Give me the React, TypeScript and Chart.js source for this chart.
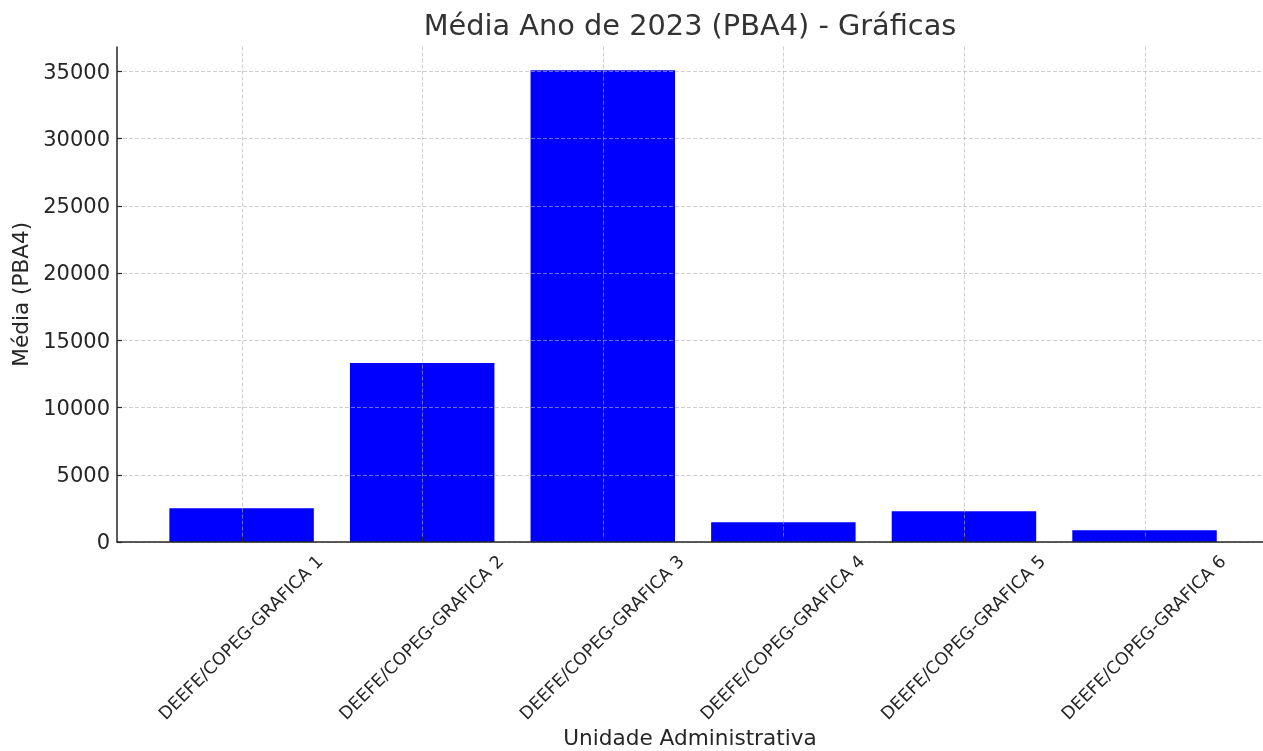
import React, { useEffect, useRef } from 'react';
import { Chart, registerables } from 'chart.js';

Chart.register(...registerables);

const categories = [
  'DEEFE/COPEG-GRAFICA 1',
  'DEEFE/COPEG-GRAFICA 2',
  'DEEFE/COPEG-GRAFICA 3',
  'DEEFE/COPEG-GRAFICA 4',
  'DEEFE/COPEG-GRAFICA 5',
  'DEEFE/COPEG-GRAFICA 6',
];
const values = [2510, 13310, 35075, 1460, 2280, 866];
const yTicks = [0, 5000, 10000, 15000, 20000, 25000, 30000, 35000];
const chartTitle = 'Média Ano de 2023 (PBA4) - Gráficas';
const xTitle = 'Unidade Administrativa';
const yTitle = 'Média (PBA4)';

const FONT = "'DejaVu Sans', sans-serif";
const TEXT = '#262626';

const overlay = {
  id: 'overlay',
  afterDatasetsDraw(chart: any) {
    const { ctx, chartArea: a, scales } = chart;
    const x = scales.x;
    const y = scales.y;
    ctx.save();
    // dashed grid on top of bars
    ctx.strokeStyle = 'rgba(176,176,176,0.6)';
    ctx.lineWidth = 1;
    ctx.setLineDash([4, 2]);
    categories.forEach((_, i) => {
      const px = Math.round(x.getPixelForValue(i)) + 0.5;
      ctx.beginPath();
      ctx.moveTo(px, a.top);
      ctx.lineTo(px, a.bottom);
      ctx.stroke();
    });
    yTicks.forEach((v) => {
      const py = Math.round(y.getPixelForValue(v)) + 0.5;
      ctx.beginPath();
      ctx.moveTo(a.left, py);
      ctx.lineTo(a.right, py);
      ctx.stroke();
    });
    ctx.setLineDash([]);
    // inward tick marks
    ctx.strokeStyle = TEXT;
    ctx.lineWidth = 1.2;
    categories.forEach((_, i) => {
      const px = Math.round(x.getPixelForValue(i)) + 0.5;
      ctx.beginPath();
      ctx.moveTo(px, a.bottom);
      ctx.lineTo(px, a.bottom - 5);
      ctx.stroke();
    });
    yTicks.forEach((v) => {
      const py = Math.round(y.getPixelForValue(v)) + 0.5;
      ctx.beginPath();
      ctx.moveTo(a.left, py);
      ctx.lineTo(a.left + 5, py);
      ctx.stroke();
    });
    // spines
    ctx.lineWidth = 1.5;
    ctx.beginPath();
    ctx.moveTo(a.left, a.top);
    ctx.lineTo(a.left, a.bottom);
    ctx.lineTo(a.right, a.bottom);
    ctx.stroke();
    // rotated category labels, centred under ticks
    const fs = 17.5;
    ctx.font = `${fs}px ${FONT}`;
    ctx.fillStyle = TEXT;
    ctx.textAlign = 'center';
    ctx.textBaseline = 'middle';
    categories.forEach((c, i) => {
      const w = ctx.measureText(c).width;
      const h = fs * 1.164;
      const bh = (w + h) * Math.SQRT1_2;
      const cx = x.getPixelForValue(i);
      const cy = a.bottom + 10 + bh / 2;
      ctx.save();
      ctx.translate(cx, cy);
      ctx.rotate(-Math.PI / 4);
      ctx.fillText(c, 0, 0);
      ctx.restore();
    });
    ctx.restore();
  },
};

export default function App() {
  const ref = useRef<HTMLCanvasElement | null>(null);
  useEffect(() => {
    if (!ref.current) return;
    const chart = new Chart(ref.current, {
      type: 'bar',
      data: {
        labels: categories,
        datasets: [
          {
            data: values.map((v, i) => ({ x: i, y: v })) as any,
            backgroundColor: '#0000ff',
            borderWidth: 0,
            barPercentage: 0.8,
            categoryPercentage: 1,
          },
        ],
      },
      options: {
        animation: false,
        responsive: false,
        devicePixelRatio: 1,
        layout: { padding: 0 },
        plugins: {
          legend: { display: false },
          tooltip: { enabled: false },
          title: {
            display: true,
            fullSize: false,
            text: chartTitle,
            color: '#333333',
            font: { family: FONT, size: 28.8, weight: 'normal', lineHeight: 1.2 },
            padding: { top: 10, bottom: 2 },
          },
        },
        scales: {
          x: {
            type: 'linear',
            min: -0.69,
            max: 5.656,
            offset: false,
            grid: { display: false, drawTicks: false },
            border: { display: false },
            ticks: { display: false },
            afterBuildTicks: (s: any) => {
              s.ticks = categories.map((_, i) => ({ value: i }));
            },
            title: {
              display: true,
              text: xTitle,
              color: TEXT,
              font: { family: FONT, size: 21.6, lineHeight: 1 },
              padding: { top: 0, bottom: 1 },
            },
            afterFit: (s: any) => {
              s.height = 209;
            },
          },
          y: {
            min: 0,
            max: 36830,
            grid: { display: false, drawTicks: false },
            border: { display: false },
            afterBuildTicks: (s: any) => {
              s.ticks = yTicks.map((v) => ({ value: v }));
            },
            ticks: {
              padding: 7,
              labelOffset: 2,
              color: TEXT,
              font: { family: FONT, size: 21 },
              callback: (v: any) => String(v),
            },
            title: {
              display: true,
              text: yTitle,
              color: TEXT,
              font: { family: FONT, size: 21.6, lineHeight: 1.2 },
              padding: { top: 9, bottom: 0 },
            },
            afterFit: (s: any) => {
              s.width = 117;
            },
          },
        },
      } as any,
      plugins: [overlay],
    });
    return () => chart.destroy();
  }, []);
  return (
    <div style={{ position: 'fixed', left: 0, top: 0, width: 1263, height: 751, background: '#fff' }}>
      <canvas ref={ref} width={1263} height={751} style={{ display: 'block' }} />
    </div>
  );
}
